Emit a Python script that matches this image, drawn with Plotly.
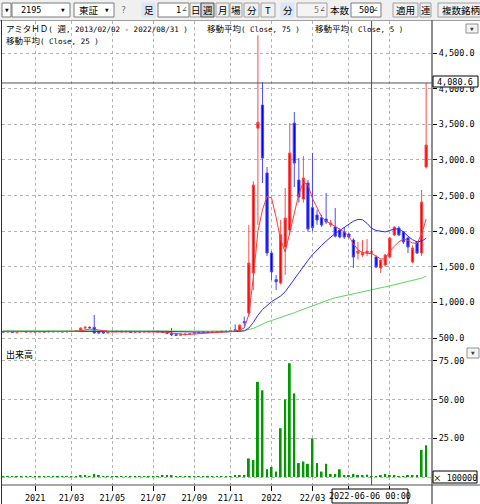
import re
import pandas as pd
import plotly.graph_objects as go

# ---------------- data (weekly bars) ----------------
dates = pd.date_range("2020-11-16", periods=94, freq="7D")

opens = [592, 584, 596, 580, 590, 594, 585, 592, 586, 590,
         586, 594, 588, 592, 586, 590, 594, 605, 640, 650,
         650, 590, 585, 572, 595, 590, 596, 588, 594, 580,
         590, 584, 592, 588, 594, 586, 578, 566, 548, 540,
         548, 556, 560, 570, 578, 584, 580, 592, 586, 596,
         590, 615, 600, 730, 850, 1413, 3446, 3771, 2817, 1693,
         1320, 1272, 1778, 2016, 3518, 2718, 2451, 2676, 2330, 2227,
         2190, 2170, 2090, 2060, 2016, 1988, 1960, 1876, 1690, 1665,
         1690, 1705, 1637, 1483, 1525, 1637, 1946, 2044, 1988, 1904,
         1567, 1848, 1693, 2901]
highs = [600, 600, 602, 598, 604, 600, 598, 600, 596, 598,
         600, 602, 600, 598, 596, 600, 610, 650, 670, 665,
         823, 595, 590, 600, 605, 600, 604, 600, 600, 596,
         598, 596, 600, 598, 600, 596, 590, 640, 560, 560,
         560, 568, 575, 585, 590, 595, 598, 600, 600, 605,
         610, 690, 690, 800, 2087, 2700, 4750, 4094, 2900, 1720,
         1385, 2160, 2606, 3518, 3672, 3027, 3055, 2720, 3100, 2300,
         2230, 2536, 2160, 2325, 2040, 2058, 1975, 1900, 1850, 1876,
         1890, 1760, 1660, 1600, 1680, 1920, 2070, 2070, 2000, 1920,
         1800, 1860, 2578, 4080.6]
lows = [580, 578, 575, 560, 582, 580, 578, 582, 580, 582,
        580, 584, 580, 582, 578, 582, 588, 600, 620, 630,
        560, 560, 560, 568, 585, 580, 585, 580, 576, 575,
        578, 578, 580, 580, 582, 572, 560, 528, 530, 528,
        536, 545, 552, 560, 570, 575, 575, 582, 580, 585,
        585, 595, 595, 660, 800, 1174, 2087, 2676, 1650, 1315,
        1174, 1250, 1385, 1950, 2620, 2400, 2400, 1990, 2000, 2090,
        2060, 2100, 2060, 1911, 1900, 1890, 1900, 1483, 1600, 1640,
        1650, 1680, 1480, 1413, 1500, 1620, 1930, 1930, 1820, 1693,
        1550, 1680, 1650, 2880]
closes = [584, 596, 580, 590, 594, 585, 592, 586, 590, 586,
          594, 588, 592, 586, 590, 594, 605, 640, 650, 645,
          572, 570, 572, 595, 590, 596, 588, 594, 580, 590,
          584, 592, 588, 594, 586, 578, 566, 545, 538, 552,
          556, 560, 570, 578, 584, 580, 592, 586, 596, 590,
          604, 605, 680, 715, 1553, 2648, 3530, 3027, 1693, 1427,
          1290, 1951, 2185, 3098, 2957, 2480, 2746, 2030, 2050, 2157,
          2086, 2130, 2115, 1930, 1918, 1918, 1918, 1637, 1720, 1700,
          1720, 1712, 1497, 1595, 1665, 1904, 2058, 1946, 1848, 1778,
          1764, 1693, 2410, 3210]

ma5 = [590, 589, 588, 590, 591, 589, 590, 589, 590, 589,
       590, 590, 590, 589, 590, 591, 594, 602, 614, 624,
       622, 610, 598, 586, 584, 586, 588, 592, 590, 590,
       588, 588, 587, 590, 589, 588, 580, 570, 560, 554,
       550, 552, 556, 563, 570, 576, 581, 584, 588, 590,
       594, 596, 615, 640, 832, 1350, 2000, 2300, 2490, 2465,
       2193, 1878, 1709, 1990, 2270, 2520, 2690, 2650, 2460, 2330,
       2200, 2140, 2100, 2070, 2030, 1990, 1930, 1820, 1740, 1700,
       1690, 1685, 1650, 1610, 1610, 1720, 1790, 1850, 1890, 1870,
       1834, 1830, 1960, 2170]
ma25 = [592, 592, 591, 591, 592, 592, 591, 591, 592, 592,
        591, 592, 592, 591, 591, 592, 593, 595, 597, 598,
        600, 600, 599, 600, 601, 601, 600, 600, 599, 599,
        598, 598, 597, 597, 596, 595, 593, 590, 588, 586,
        584, 582, 581, 580, 580, 580, 581, 582, 583, 585,
        588, 590, 594, 600, 640, 720, 820, 900, 960, 1010,
        1050, 1090, 1150, 1240, 1330, 1420, 1510, 1590, 1670, 1740,
        1800, 1860, 1920, 1970, 2010, 2050, 2100, 2140, 2165, 2160,
        2110, 2040, 2010, 1995, 1990, 2010, 2030, 2030, 1990, 1930,
        1880, 1850, 1860, 1900]
ma75 = [602, 602, 602, 601, 601, 601, 601, 601, 601, 601,
        600, 600, 600, 600, 600, 600, 600, 600, 601, 601,
        602, 602, 602, 602, 602, 602, 601, 601, 601, 601,
        601, 600, 600, 600, 600, 599, 599, 598, 597, 596,
        595, 594, 594, 594, 594, 594, 594, 594, 594, 594,
        595, 595, 597, 605, 615, 635, 665, 700, 725, 745,
        765, 785, 805, 830, 855, 880, 905, 930, 955, 975,
        1000, 1020, 1045, 1065, 1080, 1095, 1110, 1125, 1140, 1155,
        1168, 1180, 1192, 1205, 1218, 1232, 1246, 1260, 1275, 1290,
        1305, 1320, 1340, 1370]
volume = [0.5, 0.4, 0.5, 0.6, 0.4, 0.5, 0.4, 0.5, 0.5, 0.4,
          0.5, 0.4, 0.4, 0.5, 0.4, 0.5, 0.6, 0.8, 0.7, 0.6,
          2.0, 0.8, 0.5, 0.4, 0.4, 0.5, 0.4, 0.4, 0.5, 0.4,
          0.4, 0.5, 0.4, 0.5, 0.6, 0.8, 1.0, 1.0, 0.6, 0.5,
          0.4, 0.4, 0.5, 0.4, 0.4, 0.4, 0.5, 0.4, 0.4, 0.5,
          0.5, 0.8, 0.7, 0.9, 12, 11, 61.5, 56, 5, 6.5,
          3.5, 31.5, 50, 73.5, 54, 9, 10, 8.5, 25, 9,
          3.5, 8.5, 2, 2, 5, 1, 0.8, 2, 1.2, 1.2,
          1.5, 0.5, 0.6, 1.2, 2, 1.2, 1, 0.6, 0.6, 0.8,
          1, 0.7, 17.5, 20.5]

price_ticks = [500, 1000, 1500, 2000, 2500, 3000, 3500, 4000, 4500]
vol_ticks = [0, 25, 50, 75]
vol_ticktext = ["", "25.00", "50.00", "75.00"]
date_ticks = ["2021-01-04", "2021-03-01", "2021-05-03", "2021-07-05", "2021-09-06",
              "2021-11-01", "2022-01-03", "2022-03-07", "2022-05-02", "2022-07-04"]
date_ticktext = ["2021", "21/03", "21/05", "21/07", "21/09", "21/11", "2022", "22/03", "", ""]

cursor_date = "2022-06-06"
cursor_price = 4080.6

# ---------------- layout helpers (pixel -> paper) ----------------
W, H = 480, 504
ML, MR, MT, MB = 2, 48, 21, 19
PW = W - ML - MR
PH = H - MT - MB


def px(x):
    return (x - ML) / PW


def py(y):
    return (H - MB - y) / PH


MONO = "DejaVu Sans Mono"
JP = "Noto Sans CJK JP"


def mixed(s, cjk_size):
    return re.sub(r'([^\x00-\x7f]+)',
                  lambda m: '<span style="font-family:%s;font-size:%spx">%s</span>' % (JP, cjk_size, m.group(1)),
                  s)


shapes = []
annotations = []


def rect(x0, y0, x1, y1, fill, line="#808080", lw=1):
    shapes.append(dict(type="rect", xref="paper", yref="paper", x0=px(x0), x1=px(x1),
                       y0=py(y1), y1=py(y0), fillcolor=fill,
                       line=dict(color=line, width=lw), layer="above"))


def hline(x0, x1, y, color, lw=1):
    shapes.append(dict(type="line", xref="paper", yref="paper", x0=px(x0), x1=px(x1),
                       y0=py(y), y1=py(y), line=dict(color=color, width=lw), layer="above"))


def vline(x, y0, y1, color, lw=1):
    shapes.append(dict(type="line", xref="paper", yref="paper", x0=px(x), x1=px(x),
                       y0=py(y1), y1=py(y0), line=dict(color=color, width=lw), layer="above"))


def text(x, y, s, size=9, family=MONO, anchor="left", color="#000000"):
    annotations.append(dict(xref="paper", yref="paper", x=px(x), y=py(y), text=s,
                            showarrow=False, xanchor=anchor, yanchor="middle",
                            font=dict(family=family, size=size, color=color),
                            borderpad=0))


# ---------------- traces ----------------
fig = go.Figure()
fig.add_trace(go.Candlestick(
    x=dates, open=opens, high=highs, low=lows, close=closes,
    increasing=dict(line=dict(color="#ff4a4a", width=1), fillcolor="#ff0000"),
    decreasing=dict(line=dict(color="#4a4aff", width=1), fillcolor="#0000ff"),
    whiskerwidth=0, xaxis="x", yaxis="y", showlegend=False, hoverinfo="skip"))
fig.add_trace(go.Scatter(x=dates, y=ma75, mode="lines", line=dict(color="#5cd65c", width=1),
                         xaxis="x", yaxis="y", showlegend=False, hoverinfo="skip"))
fig.add_trace(go.Scatter(x=dates, y=ma25, mode="lines", line=dict(color="#2a2aff", width=1),
                         xaxis="x", yaxis="y", showlegend=False, hoverinfo="skip"))
fig.add_trace(go.Scatter(x=dates, y=ma5, mode="lines", line=dict(color="#ff3a3a", width=1),
                         xaxis="x", yaxis="y", showlegend=False, hoverinfo="skip"))
fig.add_trace(go.Bar(x=dates, y=volume, marker=dict(color="#009a00", line=dict(width=0)),
                     width=2.6e8, xaxis="x2", yaxis="y2", showlegend=False, hoverinfo="skip"))

GRID = "#b4b4b4"
xrange = ["2020-11-14", "2022-09-07"]
tickfont = dict(family=MONO, size=8.5, color="#000000")

fig.update_layout(
    width=W, height=H,
    margin=dict(l=ML, r=MR, t=MT, b=MB, pad=0),
    paper_bgcolor="#ffffff", plot_bgcolor="#ffffff",
    hovermode=False, showlegend=False,
    xaxis=dict(domain=[0, 1], anchor="y", matches="x2", range=xrange, type="date",
               tickvals=date_ticks, showticklabels=False, ticks="",
               showgrid=True, gridcolor=GRID, griddash="dot", gridwidth=1,
               zeroline=False, showline=False, rangeslider=dict(visible=False)),
    xaxis2=dict(domain=[0, 1], anchor="y2", range=xrange, type="date",
                tickvals=date_ticks, ticktext=date_ticktext, tickangle=0,
                ticks="outside", ticklen=5, tickcolor="#000000", tickfont=tickfont,
                showgrid=True, gridcolor=GRID, griddash="dot", gridwidth=1,
                zeroline=False, showline=False),
    yaxis=dict(domain=[py(343), 1], anchor="x", side="right", range=[430, 4951],
               tickvals=price_ticks, tickformat=",.1f", ticks="outside", ticklen=4,
               tickcolor="#000000", tickfont=tickfont,
               showgrid=True, gridcolor=GRID, griddash="dot", gridwidth=1,
               zeroline=False, showline=False),
    yaxis2=dict(domain=[0, py(345)], anchor="x2", side="right", range=[-5.17, 85.27],
                tickvals=vol_ticks, ticktext=vol_ticktext, ticks="outside", ticklen=4,
                tickcolor="#000000", tickfont=tickfont,
                showgrid=True, gridcolor=GRID, griddash="dot", gridwidth=1,
                zeroline=False, showline=False),
)

# ---------------- toolbar ----------------
rect(0, 0, 480, 20, "#f0f0f0", "#f0f0f0", 0)
hline(0, 480, 20.5, "#a0a0a0")
rect(2, 3, 11, 17, "#ffffff", "#7a7a7a")
text(6.5, 10, "▼", 6, MONO, "center")
rect(12, 3, 70, 17, "#ffffff", "#7a7a7a")
text(20, 10, "2195", 8.5)
text(63, 10, "▼", 6, MONO, "center")
rect(74, 3, 114, 17, "#ffffff", "#7a7a7a")
text(78, 10, "東証", 9.5, JP)
text(107, 10, "▼", 6, MONO, "center")
text(124, 10, "?", 8.5, MONO, "center", "#707070")
rect(142, 3, 155, 17, "#dce6f4", "#dce6f4")
text(148.5, 10, "足", 9.5, JP, "center")
rect(158, 3, 189, 17, "#ffffff", "#7a7a7a")
text(178, 10, "1", 8.5, MONO, "center")
text(184, 10, "∠", 8, MONO, "center", "#404040")
for x0, x1, lab in [(190, 201, "日"), (201, 214, "週"), (216, 229, "月"),
                    (230, 242, "場"), (244, 259, "分"), (261, 275, "T")]:
    if lab == "週":
        rect(x0, 3, x1, 17, "#d4d4d4", "#505050")
    else:
        rect(x0, 3, x1, 17, "#f0f0f0", "#a0a0a0")
    text((x0 + x1) / 2, 10, lab, 9.5, JP, "center")
rect(281, 3, 294, 17, "#dce6f4", "#dce6f4")
text(287.5, 10, "分", 9.5, JP, "center")
rect(297, 3, 327, 17, "#f4f4f4", "#a0a0a0")
text(316, 10, "5", 8.5, MONO, "center", "#808080")
text(322, 10, "∠", 8, MONO, "center", "#404040")
text(329, 10, "本数", 9.5, JP)
rect(351, 3, 381, 17, "#ffffff", "#7a7a7a")
text(366, 10, "500", 8.5, MONO, "center")
text(375, 10, "∠", 8, MONO, "center", "#404040")
rect(393, 3, 418, 17, "#f0f0f0", "#a0a0a0")
text(405.5, 10, "適用", 9.5, JP, "center")
rect(420, 3, 431, 17, "#f0f0f0", "#a0a0a0")
text(425.5, 10, "連", 9.5, JP, "center")
rect(438, 3, 484, 17, "#f0f0f0", "#a0a0a0")
text(441, 10, "複数銘柄", 9.5, JP)

# ---------------- frame lines ----------------
vline(432, 20, 504, "#6a6a6a", 1.5)
hline(2, 480, 485, "#505050", 1)
vline(1.5, 20, 504, "#303030", 1)

# crosshair
shapes.append(dict(type="line", xref="x", yref="paper", x0=cursor_date, x1=cursor_date,
                   y0=0, y1=py(21), line=dict(color="#505050", width=1), layer="above"))
shapes.append(dict(type="line", xref="paper", yref="y", x0=0, x1=1,
                   y0=cursor_price, y1=cursor_price, line=dict(color="#505050", width=1),
                   layer="above"))

# value boxes
rect(433, 76, 478, 87, "#ffffff", "#000000")
text(455.5, 81.5, "{:,.1f}".format(cursor_price), 8.5, MONO, "center")
rect(332, 489, 408, 503, "#ffffff", "#000000")
text(370, 496, "2022-06-06 00:00", 8.5, MONO, "center")
rect(433, 471, 477, 483, "#ffffff", "#000000")
text(455, 477, mixed("× 100000", 8.5), 8.5, MONO, "center")

# panel menu buttons
rect(466, 24, 478, 33, "#f4f4f4", "#909090")
text(472, 28.5, "▼", 6, MONO, "center", "#404040")
rect(467, 348, 479, 358, "#f4f4f4", "#909090")
text(473, 353, "▼", 6, MONO, "center", "#404040")

# ---------------- legends ----------------
text(5, 28, mixed("アミタＨＤ( 週, 2013/02/02 - 2022/08/31 )", 8.5), 7.5)
text(206, 28, mixed("移動平均( Close, 75 )", 8.5), 7.5)
text(314, 28, mixed("移動平均( Close, 5 )", 8.5), 7.5)
text(5, 40, mixed("移動平均( Close, 25 )", 8.5), 7.5)
text(5, 354, "出来高", 9, JP)

fig.update_layout(shapes=shapes, annotations=annotations)

fig.write_html("out.html", config={"displayModeBar": False},
               post_script="document.body.style.margin='0px';document.body.style.overflow='hidden';")
